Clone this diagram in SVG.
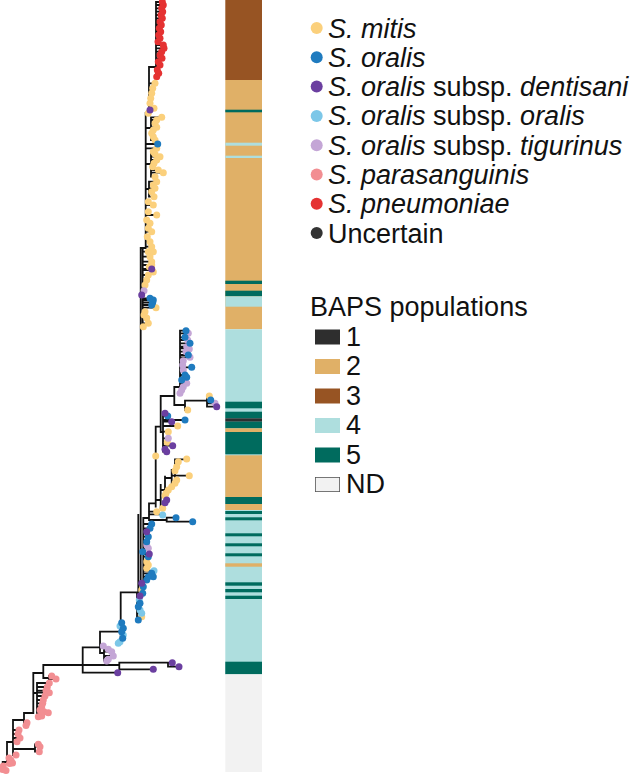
<svg xmlns="http://www.w3.org/2000/svg" width="634" height="774" viewBox="0 0 634 774">
<style>
.br{fill:none;stroke:#111;stroke-width:1.8;stroke-linecap:square}
#tips circle{r:3.5px}
.m{fill:#FBD07C}.o{fill:#1F7BBF}.d{fill:#6B3FA0}.ol{fill:#7CC7E8}.t{fill:#C4A6D6}.p{fill:#F28E92}.pn{fill:#E53232}.u{fill:#333}
.b1{fill:#2E2E2E}.b2{fill:#E0B067}.b3{fill:#975423}.b4{fill:#AEDEDE}.b5{fill:#006B5E}.nd{fill:#F2F2F2}
text{font-family:"Liberation Sans",Arial,sans-serif;font-size:27px;fill:#111}
.i{font-style:italic}
</style>
<rect width="634" height="774" fill="#fff"/>
<g id="tree">
<g id="branches">
<path class="br" d="M156,2V77M149,67H156M156,2H162M156,5H163M156,8.3H161.7M156,11.7H162.7M156,15H161M156,18.3H162.3M156,21.7H160M156,25H161.3M156,28.3H159.3M156,31.7H160.7M156,35H158.7M156,38.3H160M156,45H163.3M156,48.3H164M156,51.7H161.7M156,55H160M156,58.3H162M156,65H160M156,73.3H158.7
M149,67V113M145.7,113H149M149,83.3H155M149,88.3H152.7M149,93.3H151.7M149,108.3H154
M145.7,113V248M140.7,248H145.7
M145.7,128H151M151,117.3V140M151,117.3H161.7M151,120H156.7M151,123.3H155M151,127.3H156.7M151,130H153.3M151,136.7H153.3M151,140H155
M145.7,144H157.7M145.7,148.3H156.7
M145.7,164H151M151,151.7V176.7M151,154H155M151,156.7H160M151,160H156.7M151,163.3H154M151,170H158.3M151,172.7H163.3M151,176.7H155
M145.7,189H149M149,181.7V196.7M149,181.7H156.7M149,185H153.3M149,188.3H155M149,196.7H154
M145.7,201.7H148.3M145.7,205H153.3M145.7,211.7H148.3M145.7,215H156.7M145.7,223.3H150M145.7,228.3H148.3M145.7,231.7H151.7M145.7,241.7H150M145.7,246.7H151.7
M142.7,248V327M142.7,251.7H153.3M142.7,256.7H150M142.7,261.7H151.7M142.7,265H151.7M142.7,269H151.7M142.7,270H153.3M142.7,275H148.3M142.7,280H146.7M142.7,285H145M142.7,298.3H150M142.7,300H153.3M142.7,302.5H152.7M142.7,305H151.7M142.7,307.7H156M142.7,311.7H145M142.7,316.7H146.7M142.7,323.3H148.3
M140.7,248V592.3M120.7,592.3H140.7
M180,330.7V393M174.3,387H180M180,330.7H186M180,333.3H188.3M180,337.3H185M180,340H187.7M180,343.3H190M180,346.7H186.7M180,348.3H189.3M180,351.7H186M180,355H188.3M180,357.3H190M180,360.7H183.3M180,365H182.7M180,367.3H191.7M180,370H183.3M180,375H185M180,377.3H186.7M180,380H181.7M180,383.3H186.7M180,386.7H183.3
M174.3,387V405H185M185,400.7V410H187.7M185,400.7H207M207,396V406.7M207,396H209.3M207,400H210.7M207,403.3H215M207,406.7H216.7
M160.7,396H174.3M160.7,396V432M160.7,432H163M163,413.3V451.7M163,413.3H165M163,416H167.7M163,421.7H171.7M163,420H185M163,426H177.7M163,431.7H168.3M163,438.3H168.3M163,442.3H167.3M163,445.7H172.7M163,449.3H165M163,451.7H166.7
M155.7,426.7H160.7M155.7,426.7V506.7
M155.7,500H160.7M160.7,485V508.3H162.7M160.7,490H165M165,476.7V502.7M165,478H171.7M171.7,470V487M171.7,470H175M175,459.3V483.3M175,459.3H186.7M171.7,475.7H189.3M175,461.7H178.3M175,466.7H176.7M175,480H176.7M165,490H168.3M165,493.3H166M165,500H166.7
M149,503.3H155.7M149,503.3V520M143.3,518H149M149,514.3H162.7M149,511.7H156.7M149,520H166.7M166.7,517.7V521.7M166.7,517.7H176M166.7,521.7H192.7
M143.3,518V590M138.3,515V592M143.3,524H151.7M143.3,528.3H150M143.3,531.7H146.7M143.3,536.7H148.3M143.3,541.7H146.7M143.3,545H146.7M143.3,548.3H148.3M143.3,554H149.3M143.3,556.7H148.3M143.3,561.7H146.7M143.3,565H148.3M143.3,568.3H146.7M143.3,570.7H154M143.3,573.3H151.7M143.3,576.7H153.3M143.3,580H146.7
M137,592.3V620M137,600H139.3M137,603.3H140M137,610H140M137,613.3H141.7M137,616.7H141.7
M120.7,592.3V643M120.7,622.7H121.7M120.7,628.3H123.3M120.7,635H123.3M120.7,638.3H122.7M100,631.7H120.7
M100,631.7V653M100,653H104M104,646V660.7M104,649.3H108.3M104,651.7H111.7M104,656H113.3M104,659.3H108.3M104,660.7H106.7M82.7,647.3H100
M82.7,647.3V672.7M82.7,665H119.3M119.3,662.7V669.3M119.3,662.7H172.3M168,662.7V666.7H179M119.3,669.3H153.3M82.7,672.7H117.7M43.3,665H82.7
M43.3,665V678H49M49,676V679M49,676H51.7M49,679H56
M33.3,673H43.3M33.3,673V713M33.3,693H37M37,683V716.7M37,683H49.3M37,687H47.3M37,690.7H46M37,692.7H49.3M37,696H45M37,700H43.3M37,703.3H42.7M37,706.7H41.7M37,710H40M37,711.7H44M37,712.7H48.3M37,716H41.7
M24,713H33.3M24,713V725.5M24,722.7H27M24,725.5H26
M13,720H24M13,720V755M13,730H19M13,734H18M13,738H20M13,741.7H17M13,755H16M13,749H35M35,744.3V751.7M35,744.3H38.3M35,746.7H40M35,751.7H39.3
M7,742H13M7,742V763.5M7,758H9M7,760.5H11M7,763H12.5M7,763.5H9.5
M2.7,762H7M2.7,762V770.5M2.7,766H3.3M2.7,770.5H6"/>
</g>
<g id="tips">
<g id="tips-pneumoniae" class="pn">
<circle cx="162.3" cy="2" r="3.5"/><circle cx="163.3" cy="5" r="3.5"/><circle cx="161.7" cy="8.3" r="3.5"/><circle cx="162.7" cy="11.7" r="3.5"/><circle cx="161" cy="15" r="3.5"/><circle cx="162.3" cy="18.3" r="3.5"/><circle cx="160" cy="21.7" r="3.5"/><circle cx="161.3" cy="25" r="3.5"/><circle cx="159.3" cy="28.3" r="3.5"/><circle cx="160.7" cy="31.7" r="3.5"/><circle cx="158.7" cy="35" r="3.5"/><circle cx="160" cy="38.3" r="3.5"/><circle cx="158" cy="41.7" r="3.5"/><circle cx="163.3" cy="45" r="3.5"/><circle cx="164" cy="48.3" r="3.5"/><circle cx="161.7" cy="51.7" r="3.5"/><circle cx="160" cy="55" r="3.5"/><circle cx="162" cy="58.3" r="3.5"/><circle cx="158.3" cy="61.7" r="3.5"/><circle cx="160" cy="65" r="3.5"/><circle cx="157.3" cy="70" r="3.5"/><circle cx="158.7" cy="73.3" r="3.5"/><circle cx="156.7" cy="76.7" r="3.5"/>
</g>
<g id="tips-mitis" class="m">
<circle cx="155" cy="83.3" r="3.5"/><circle cx="152.7" cy="88.3" r="3.5"/><circle cx="151.7" cy="93.3" r="3.5"/><circle cx="150.7" cy="98.3" r="3.5"/><circle cx="150" cy="103.3" r="3.5"/><circle cx="154" cy="108.3" r="3.5"/><circle cx="148.3" cy="113.3" r="3.5"/>
<circle cx="161.7" cy="117.3" r="3.5"/><circle cx="156.7" cy="120" r="3.5"/><circle cx="155" cy="123.3" r="3.5"/><circle cx="156.7" cy="127.3" r="3.5"/><circle cx="153.3" cy="130" r="3.5"/><circle cx="151.7" cy="133.3" r="3.5"/><circle cx="153.3" cy="136.7" r="3.5"/><circle cx="155" cy="140" r="3.5"/>
<circle cx="156.7" cy="148.3" r="3.5"/>
<circle cx="153.3" cy="151.7" r="3.5"/><circle cx="155" cy="154" r="3.5"/><circle cx="160" cy="156.7" r="3.5"/><circle cx="156.7" cy="160" r="3.5"/><circle cx="154" cy="163.3" r="3.5"/><circle cx="152.7" cy="166.7" r="3.5"/><circle cx="158.3" cy="170" r="3.5"/><circle cx="163.3" cy="172.7" r="3.5"/><circle cx="155" cy="176.7" r="3.5"/>
<circle cx="156.7" cy="181.7" r="3.5"/><circle cx="153.3" cy="185" r="3.5"/><circle cx="155" cy="188.3" r="3.5"/><circle cx="151.7" cy="191.7" r="3.5"/><circle cx="154" cy="196.7" r="3.5"/>
<circle cx="148.3" cy="201.7" r="3.5"/><circle cx="153.3" cy="205" r="3.5"/><circle cx="148.3" cy="211.7" r="3.5"/><circle cx="156.7" cy="215" r="3.5"/><circle cx="146.7" cy="220" r="3.5"/><circle cx="150" cy="223.3" r="3.5"/><circle cx="148.3" cy="228.3" r="3.5"/><circle cx="151.7" cy="231.7" r="3.5"/><circle cx="147.3" cy="236.7" r="3.5"/><circle cx="150" cy="241.7" r="3.5"/><circle cx="151.7" cy="246.7" r="3.5"/>
<circle cx="148.3" cy="251.7" r="3.5"/><circle cx="153.3" cy="251.7" r="3.5"/><circle cx="150" cy="256.7" r="3.5"/><circle cx="151.7" cy="261.7" r="3.5"/><circle cx="151.7" cy="265" r="3.5"/><circle cx="149.3" cy="266.7" r="3.5"/><circle cx="153.3" cy="272" r="3.5"/><circle cx="148.3" cy="275" r="3.5"/><circle cx="146.7" cy="280" r="3.5"/><circle cx="145" cy="285" r="3.5"/><circle cx="156" cy="307.7" r="3.5"/><circle cx="145" cy="311.7" r="3.5"/><circle cx="144" cy="315" r="3.5"/><circle cx="146.7" cy="318" r="3.5"/><circle cx="148.3" cy="323.3" r="3.5"/><circle cx="143.3" cy="326.7" r="3.5"/>
<circle cx="209.3" cy="396" r="3.5"/><circle cx="187.7" cy="410" r="3.5"/><circle cx="177.7" cy="426" r="3.5"/><circle cx="168.3" cy="431.7" r="3.5"/><circle cx="167.3" cy="442.3" r="3.5"/><circle cx="155.7" cy="456" r="3.5"/><circle cx="186.7" cy="459" r="3.5"/><circle cx="178.3" cy="461.7" r="3.5"/><circle cx="176.7" cy="466.7" r="3.5"/><circle cx="175" cy="470.7" r="3.5"/><circle cx="189.3" cy="475.7" r="3.5"/><circle cx="176.7" cy="480" r="3.5"/><circle cx="175" cy="483.3" r="3.5"/><circle cx="171.7" cy="486.7" r="3.5"/><circle cx="168.3" cy="490" r="3.5"/><circle cx="166" cy="493.3" r="3.5"/><circle cx="165" cy="495.7" r="3.5"/><circle cx="162.7" cy="508.3" r="3.5"/><circle cx="156.7" cy="511.7" r="3.5"/>
<circle cx="146.7" cy="561.7" r="3.5"/><circle cx="148.3" cy="565" r="3.5"/><circle cx="146.7" cy="568.3" r="3.5"/><circle cx="141.7" cy="590" r="3.5"/><circle cx="141.7" cy="616.7" r="3.5"/>
</g>
<g id="tips-tigurinus" class="t">
<circle cx="144" cy="290.7" r="3.5"/><circle cx="188.3" cy="333.3" r="3.5"/><circle cx="187.7" cy="340" r="3.5"/><circle cx="186.7" cy="346.7" r="3.5"/><circle cx="189.3" cy="349" r="3.5"/><circle cx="186" cy="351.7" r="3.5"/><circle cx="190" cy="357.3" r="3.5"/><circle cx="183.3" cy="360.7" r="3.5"/><circle cx="182.7" cy="365" r="3.5"/><circle cx="183.3" cy="370" r="3.5"/><circle cx="186.7" cy="383.3" r="3.5"/><circle cx="183.3" cy="386.7" r="3.5"/><circle cx="181.7" cy="390" r="3.5"/><circle cx="180" cy="393.3" r="3.5"/><circle cx="215" cy="403.3" r="3.5"/><circle cx="168.3" cy="438.3" r="3.5"/><circle cx="146.7" cy="545" r="3.5"/><circle cx="148.3" cy="548.3" r="3.5"/><circle cx="103.3" cy="646" r="3.5"/><circle cx="108.3" cy="649.3" r="3.5"/><circle cx="111.7" cy="651.7" r="3.5"/><circle cx="113.3" cy="656" r="3.5"/><circle cx="108.3" cy="659.3" r="3.5"/><circle cx="106.7" cy="661" r="3.5"/>
</g>
<g id="tips-oralis-oralis" class="ol">
<circle cx="162.7" cy="515" r="3.5"/><circle cx="154" cy="570.7" r="3.5"/><circle cx="139.3" cy="600" r="3.5"/><circle cx="140" cy="610" r="3.5"/><circle cx="141.7" cy="613.3" r="3.5"/><circle cx="120" cy="626" r="3.5"/><circle cx="123.3" cy="635" r="3.5"/><circle cx="120" cy="641.7" r="3.5"/><circle cx="118.3" cy="643.3" r="3.5"/>
</g>
<g id="tips-oralis" class="o">
<circle cx="157.7" cy="144" r="3.5"/><circle cx="150" cy="298.3" r="3.5"/><circle cx="153.3" cy="300" r="3.5"/><circle cx="152.7" cy="302.5" r="3.5"/><circle cx="151.7" cy="305" r="3.5"/><circle cx="186" cy="330.7" r="3.5"/><circle cx="185" cy="337.3" r="3.5"/><circle cx="190" cy="343.3" r="3.5"/><circle cx="188.3" cy="355" r="3.5"/><circle cx="191.7" cy="367.3" r="3.5"/><circle cx="185" cy="375" r="3.5"/><circle cx="186.7" cy="377.3" r="3.5"/><circle cx="181.7" cy="380" r="3.5"/><circle cx="210.7" cy="400" r="3.5"/><circle cx="167.7" cy="416" r="3.5"/><circle cx="185" cy="420" r="3.5"/><circle cx="176" cy="517.7" r="3.5"/><circle cx="192.7" cy="521.7" r="3.5"/><circle cx="151.7" cy="524" r="3.5"/><circle cx="150" cy="528.3" r="3.5"/><circle cx="148.3" cy="536.7" r="3.5"/><circle cx="146.7" cy="541.7" r="3.5"/><circle cx="142.7" cy="551.7" r="3.5"/><circle cx="148.3" cy="556.7" r="3.5"/><circle cx="151.7" cy="573.3" r="3.5"/><circle cx="153.3" cy="576.7" r="3.5"/><circle cx="148.3" cy="576.7" r="3.5"/><circle cx="146.7" cy="580" r="3.5"/><circle cx="143.3" cy="586.7" r="3.5"/><circle cx="142.7" cy="593.3" r="3.5"/><circle cx="140" cy="603.3" r="3.5"/><circle cx="138.3" cy="606.7" r="3.5"/><circle cx="138.3" cy="620" r="3.5"/><circle cx="121.7" cy="622.7" r="3.5"/><circle cx="123.3" cy="628.3" r="3.5"/><circle cx="121.7" cy="631.7" r="3.5"/><circle cx="122.7" cy="638.3" r="3.5"/>
</g>
<g id="tips-dentisani" class="d">
<circle cx="150" cy="110" r="3.5"/><circle cx="151.7" cy="269" r="3.5"/><circle cx="141.7" cy="295" r="3.5"/><circle cx="216.7" cy="406.7" r="3.5"/><circle cx="165" cy="413.3" r="3.5"/><circle cx="171.7" cy="421.7" r="3.5"/><circle cx="172.7" cy="445.7" r="3.5"/><circle cx="165" cy="449.3" r="3.5"/><circle cx="166.7" cy="451.7" r="3.5"/><circle cx="166.7" cy="500" r="3.5"/><circle cx="165" cy="502.7" r="3.5"/><circle cx="146.7" cy="531.7" r="3.5"/><circle cx="149.3" cy="554" r="3.5"/><circle cx="141.7" cy="583.3" r="3.5"/><circle cx="140" cy="596" r="3.5"/><circle cx="172.3" cy="662.7" r="3.5"/><circle cx="179" cy="666.7" r="3.5"/><circle cx="153.3" cy="669.3" r="3.5"/><circle cx="117.7" cy="672.7" r="3.5"/>
</g>
<g id="tips-parasanguinis" class="p">
<circle cx="51.7" cy="676" r="3.5"/><circle cx="56" cy="679" r="3.5"/><circle cx="49.3" cy="683" r="3.5"/><circle cx="47.3" cy="687" r="3.5"/><circle cx="46" cy="690.7" r="3.5"/><circle cx="49.3" cy="692.7" r="3.5"/><circle cx="45" cy="696" r="3.5"/><circle cx="43.3" cy="700" r="3.5"/><circle cx="42.7" cy="703.3" r="3.5"/><circle cx="41.7" cy="706.7" r="3.5"/><circle cx="40" cy="710" r="3.5"/><circle cx="44" cy="711.7" r="3.5"/><circle cx="48.3" cy="712.7" r="3.5"/><circle cx="41.7" cy="716" r="3.5"/><circle cx="38.3" cy="716.7" r="3.5"/><circle cx="27" cy="722.7" r="3.5"/><circle cx="26" cy="725.5" r="3.5"/><circle cx="19" cy="730" r="3.5"/><circle cx="18" cy="734" r="3.5"/><circle cx="20" cy="738" r="3.5"/><circle cx="17" cy="741.7" r="3.5"/><circle cx="16" cy="755" r="3.5"/><circle cx="38.3" cy="744.3" r="3.5"/><circle cx="40" cy="746.7" r="3.5"/><circle cx="39.3" cy="751.7" r="3.5"/><circle cx="9" cy="758" r="3.5"/><circle cx="11" cy="760.5" r="3.5"/><circle cx="12.5" cy="763" r="3.5"/><circle cx="9.5" cy="763.5" r="3.5"/><circle cx="3.3" cy="766" r="3.5"/><circle cx="2.5" cy="769.5" r="3.5"/><circle cx="6" cy="770.5" r="3.5"/>
</g>
</g>
</g>
<g id="baps-bar">
<rect class="b3" x="225.3" y="0" width="36.7" height="80"/>
<rect class="b2" x="225.3" y="80" width="36.7" height="249.3"/>
<rect class="b5" x="225.3" y="109.7" width="36.7" height="2.6"/>
<rect class="b4" x="225.3" y="142.7" width="36.7" height="3"/>
<rect class="b4" x="225.3" y="155.7" width="36.7" height="2.3"/>
<rect class="b5" x="225.3" y="280.7" width="36.7" height="3.3"/>
<rect class="b5" x="225.3" y="290.7" width="36.7" height="5.6"/>
<rect class="b4" x="225.3" y="296.3" width="36.7" height="10.4"/>
<rect class="b4" x="225.3" y="329.3" width="36.7" height="345"/>
<rect class="b5" x="225.3" y="401.7" width="36.7" height="6.6"/>
<rect class="b5" x="225.3" y="411.7" width="36.7" height="6.6"/>
<rect class="b1" x="225.3" y="418.3" width="36.7" height="3.4"/>
<rect class="b5" x="225.3" y="421.7" width="36.7" height="6.6"/>
<rect class="b2" x="225.3" y="428.3" width="36.7" height="3.7"/>
<rect class="b5" x="225.3" y="432" width="36.7" height="22.3"/>
<rect class="b2" x="225.3" y="455.3" width="36.7" height="41.7"/>
<rect class="b5" x="225.3" y="497" width="36.7" height="7"/>
<rect class="b2" x="225.3" y="504" width="36.7" height="6"/>
<rect class="b5" x="225.3" y="511" width="36.7" height="3"/>
<rect class="b5" x="225.3" y="517.3" width="36.7" height="3"/>
<rect class="b5" x="225.3" y="533.3" width="36.7" height="3"/>
<rect class="b5" x="225.3" y="543.3" width="36.7" height="3"/>
<rect class="b5" x="225.3" y="553.3" width="36.7" height="3"/>
<rect class="b2" x="225.3" y="563.3" width="36.7" height="3.4"/>
<rect class="b5" x="225.3" y="582.3" width="36.7" height="3.4"/>
<rect class="b5" x="225.3" y="589" width="36.7" height="3.3"/>
<rect class="b5" x="225.3" y="595.7" width="36.7" height="3.3"/>
<rect class="b5" x="225.3" y="661.7" width="36.7" height="12.6"/>
<rect class="nd" x="225.3" y="674.3" width="36.7" height="97.7"/>
</g>
<g id="legend-species">
<g id="leg-mitis"><circle class="m" cx="316.7" cy="28" r="6"/><text x="328" y="37.5" class="i">S. mitis</text></g>
<g id="leg-oralis"><circle class="o" cx="316.7" cy="57.3" r="6"/><text x="328" y="66.8" class="i">S. oralis</text></g>
<g id="leg-dentisani"><circle class="d" cx="316.7" cy="86.6" r="6"/><text x="328" y="96.1"><tspan class="i">S. oralis</tspan> subsp. <tspan class="i">dentisani</tspan></text></g>
<g id="leg-oralis-oralis"><circle class="ol" cx="316.7" cy="115.9" r="6"/><text x="328" y="125.4"><tspan class="i">S. oralis</tspan> subsp. <tspan class="i">oralis</tspan></text></g>
<g id="leg-tigurinus"><circle class="t" cx="316.7" cy="145.2" r="6"/><text x="328" y="154.7"><tspan class="i">S. oralis</tspan> subsp. <tspan class="i">tigurinus</tspan></text></g>
<g id="leg-parasanguinis"><circle class="p" cx="316.7" cy="174.5" r="6"/><text x="328" y="184" class="i">S. parasanguinis</text></g>
<g id="leg-pneumoniae"><circle class="pn" cx="316.7" cy="203.8" r="6"/><text x="328" y="213.3" class="i">S. pneumoniae</text></g>
<g id="leg-uncertain"><circle class="u" cx="316.7" cy="233.1" r="6"/><text x="328" y="242.6">Uncertain</text></g>
</g>
<g id="legend-baps">
<text x="310" y="316">BAPS populations</text>
<g id="leg-b1"><rect class="b1" x="315" y="329.5" width="25" height="15"/><text x="346" y="345.5">1</text></g>
<g id="leg-b2"><rect class="b2" x="315" y="359" width="25" height="15"/><text x="346" y="375">2</text></g>
<g id="leg-b3"><rect class="b3" x="315" y="388.5" width="25" height="15"/><text x="346" y="404.5">3</text></g>
<g id="leg-b4"><rect class="b4" x="315" y="418" width="25" height="15"/><text x="346" y="434">4</text></g>
<g id="leg-b5"><rect class="b5" x="315" y="447.5" width="25" height="15"/><text x="346" y="463.5">5</text></g>
<g id="leg-nd"><rect class="nd" x="315.4" y="477.4" width="24.2" height="14.2" stroke="#555" stroke-width="0.8"/><text x="346" y="493">ND</text></g>
</g>
</svg>
